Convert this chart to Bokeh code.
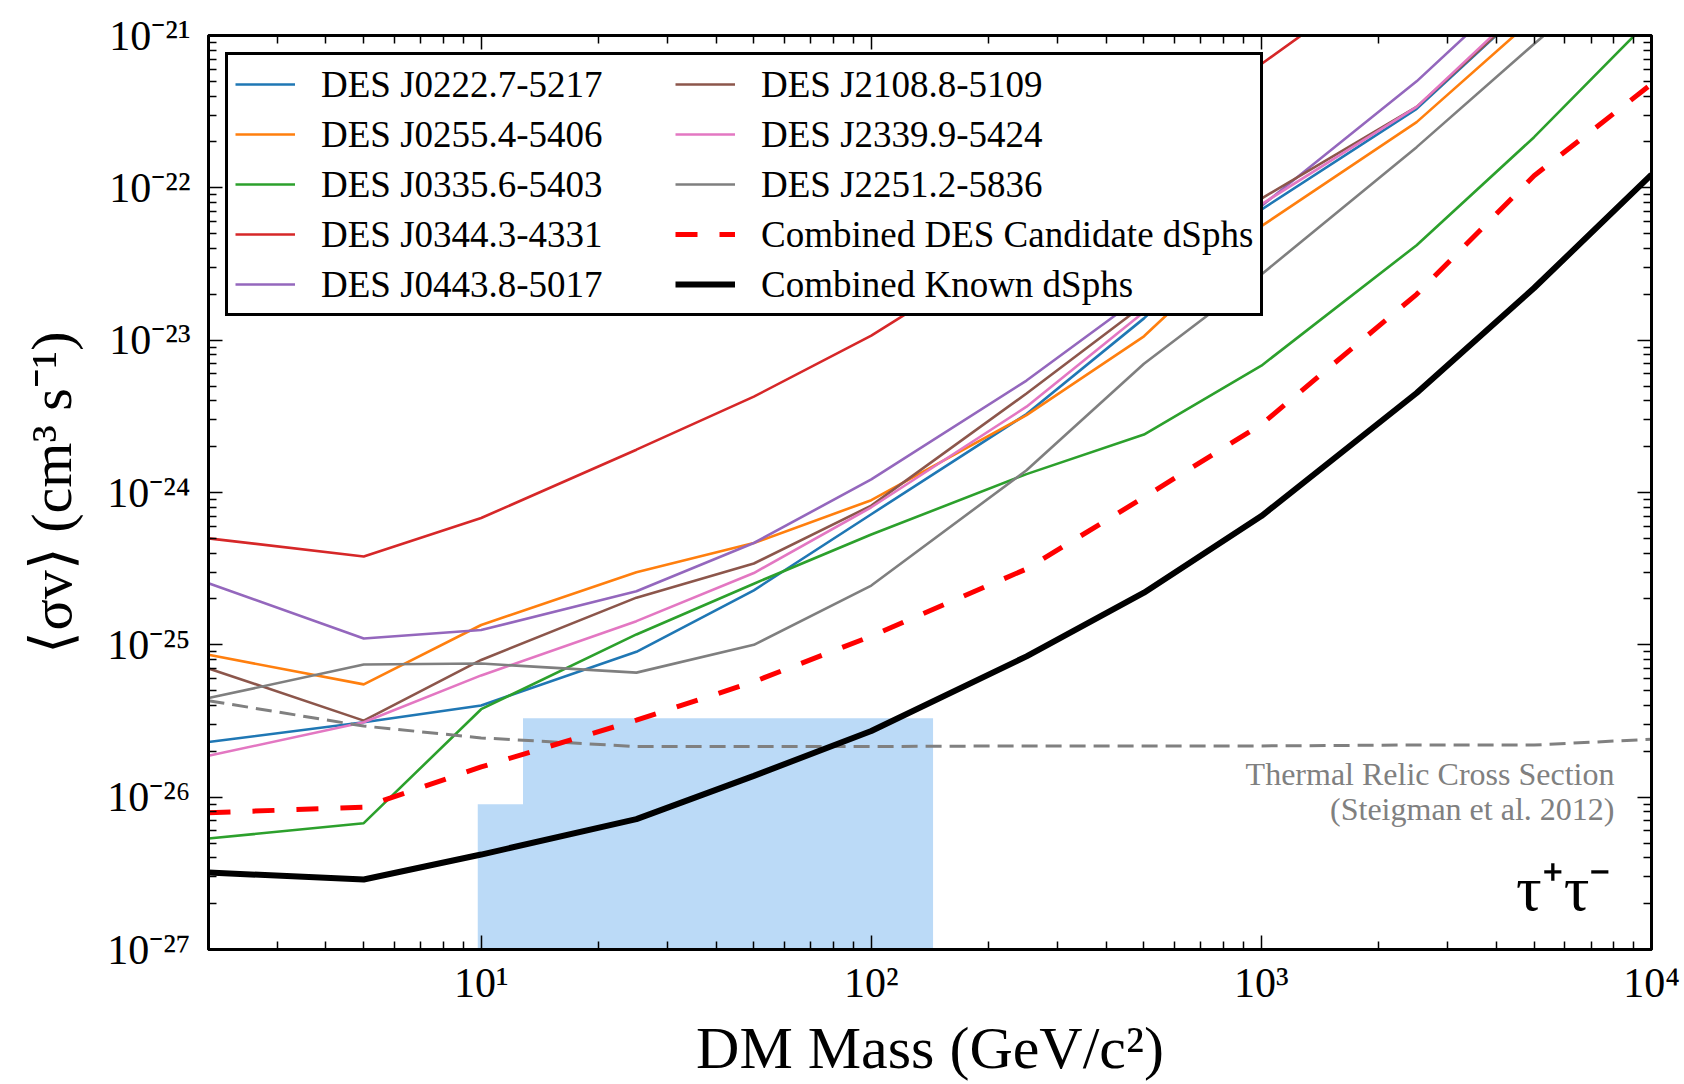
from bokeh.plotting import figure
from bokeh.models import (Legend, LegendItem, FixedTicker, LogAxis, Range1d, Label,
                          CustomJSTickFormatter)
from bokeh.embed import file_html
from bokeh.resources import INLINE

FONT = "Liberation Serif"

# ---------------- data ----------------
mass = [2, 5, 10, 25, 50, 100, 250, 500, 1000, 2500, 5000, 10000]

sv_j0222 = [2.3e-26, 3.1e-26, 4.0e-26, 9.0e-26, 2.28e-25, 7.2e-25, 3.27e-24, 1.39e-23, 7.2e-23, 3.3e-22, 1.7e-21, 8.0e-21]
sv_j0255 = [8.6e-26, 5.5e-26, 1.35e-25, 3.0e-25, 4.66e-25, 8.9e-25, 3.22e-24, 1.06e-23, 5.6e-23, 2.7e-22, 1.3e-21, 6.0e-21]
sv_j0335 = [5.35e-27, 6.75e-27, 3.78e-26, 1.17e-25, 2.52e-25, 5.3e-25, 1.32e-24, 2.4e-24, 6.8e-24, 4.2e-23, 2.15e-22, 1.3e-21]
sv_j0344 = [5.0e-25, 3.8e-25, 6.8e-25, 1.91e-24, 4.26e-24, 1.07e-23, 4.65e-23, 1.7e-22, 6.5e-22, 3.5e-21, 1.5e-20, 6.0e-20]
sv_j0443 = [2.54e-25, 1.1e-25, 1.25e-25, 2.25e-25, 4.66e-25, 1.22e-24, 5.43e-24, 2.0e-23, 7.6e-23, 5.0e-22, 2.6e-21, 1.2e-20]
sv_j2108 = [7.0e-26, 3.18e-26, 7.96e-26, 2.04e-25, 3.42e-25, 8.2e-25, 4.47e-24, 1.71e-23, 8.5e-23, 3.4e-22, 1.7e-21, 8.0e-21]
sv_j2339 = [1.87e-26, 3.1e-26, 6.3e-26, 1.43e-25, 2.96e-25, 8.0e-25, 3.66e-24, 1.53e-23, 7.8e-23, 3.4e-22, 1.8e-21, 8.0e-21]
sv_j2251 = [4.47e-26, 7.43e-26, 7.54e-26, 6.57e-26, 1.0e-25, 2.45e-25, 1.4e-24, 7.0e-24, 2.7e-23, 1.85e-22, 8.8e-22, 4.0e-21]
sv_comb_des = [7.9e-27, 8.6e-27, 1.58e-26, 3.2e-26, 5.73e-26, 1.14e-25, 3.15e-25, 9.3e-25, 2.8e-24, 2.0e-23, 1.2e-22, 4.8e-22]
sv_comb_known = [3.2e-27, 2.88e-27, 4.2e-27, 7.18e-27, 1.38e-26, 2.72e-26, 8.4e-26, 2.2e-25, 7.0e-25, 4.5e-24, 2.2e-23, 1.22e-22]
sv_thermal = [4.3e-26, 2.93e-26, 2.45e-26, 2.15e-26, 2.15e-26, 2.15e-26, 2.17e-26, 2.17e-26, 2.17e-26, 2.2e-26, 2.2e-26, 2.4e-26]

series_names = ["DES J0222.7-5217", "DES J0255.4-5406", "DES J0335.6-5403",
                "DES J0344.3-4331", "DES J0443.8-5017", "DES J2108.8-5109",
                "DES J2339.9-5424", "DES J2251.2-5836"]
series_values = [sv_j0222, sv_j0255, sv_j0335, sv_j0344, sv_j0443, sv_j2108, sv_j2339, sv_j2251]
series_colors = ["#1f77b4", "#ff7f0e", "#2ca02c", "#d62728", "#9467bd", "#8c564b", "#e377c2", "#7f7f7f"]

x_tick_exps = [1, 2, 3, 4]
x_tick_labels = ["10¹", "10²", "10³", "10⁴"]
y_tick_exps = [-27, -26, -25, -24, -23, -22, -21]
y_tick_labels = ["10⁻²⁷", "10⁻²⁶", "10⁻²⁵", "10⁻²⁴", "10⁻²³", "10⁻²²", "10⁻²¹"]

# ---------------- figure ----------------
p = figure(frame_width=1443, frame_height=914,
           x_axis_type="log", y_axis_type="log",
           x_range=Range1d(2, 1e4), y_range=Range1d(1e-27, 1e-21),
           output_backend="svg", toolbar_location=None,
           min_border_left=208, min_border_right=33,
           min_border_top=35, min_border_bottom=135,
           background_fill_color="white", border_fill_color="white")
p.xgrid.visible = False
p.ygrid.visible = False
p.outline_line_color = "black"
p.outline_line_width = 3

x_major = [10.0 ** e for e in x_tick_exps]
x_minor = [k * 10.0 ** n for n in range(0, 4) for k in range(2, 10)]
y_major = [10.0 ** e for e in y_tick_exps]
y_minor = [k * 10.0 ** n for n in range(-27, -21) for k in range(2, 10)]

xt = FixedTicker(ticks=x_major, minor_ticks=x_minor)
yt = FixedTicker(ticks=y_major, minor_ticks=y_minor)

fmt_code = """
const e = Math.round(Math.log10(tick));
const i = exps.indexOf(e);
return i >= 0 ? labels[i] : "";
"""
xfmt = CustomJSTickFormatter(args=dict(exps=x_tick_exps, labels=x_tick_labels), code=fmt_code)
yfmt = CustomJSTickFormatter(args=dict(exps=y_tick_exps, labels=y_tick_labels), code=fmt_code)
blank = CustomJSTickFormatter(code="return '';")


def style_axis(ax):
    ax.axis_line_width = 3
    ax.axis_line_color = "black"
    ax.major_tick_in = 14
    ax.major_tick_out = 0
    ax.minor_tick_in = 8
    ax.minor_tick_out = 0
    ax.major_tick_line_width = 1.5
    ax.minor_tick_line_width = 1.5
    ax.major_tick_line_color = "black"
    ax.minor_tick_line_color = "black"
    ax.major_label_text_font = FONT
    ax.major_label_text_color = "black"
    ax.axis_label_text_font = FONT
    ax.axis_label_text_font_style = "normal"
    ax.axis_label_text_color = "black"


xa = p.xaxis[0]
xa.ticker = xt
xa.formatter = xfmt
style_axis(xa)
xa.major_label_text_font_size = "42px"
xa.major_label_standoff = 10
xa.axis_label = "DM Mass (GeV/c²)"
xa.axis_label_text_font_size = "60px"
xa.axis_label_standoff = 6

ya = p.yaxis[0]
ya.ticker = yt
ya.formatter = yfmt
style_axis(ya)
ya.major_label_text_font_size = "42px"
ya.major_label_standoff = 18
ya.axis_label = "⟨σv⟩ (cm³ s⁻¹)"
ya.axis_label_text_font_size = "58px"
ya.axis_label_standoff = 20

top_ax = LogAxis(ticker=FixedTicker(ticks=x_major, minor_ticks=x_minor), formatter=blank)
style_axis(top_ax)
top_ax.major_label_text_font_size = "1px"
p.add_layout(top_ax, "above")
right_ax = LogAxis(ticker=FixedTicker(ticks=y_major, minor_ticks=y_minor), formatter=blank)
style_axis(right_ax)
right_ax.major_label_text_font_size = "1px"
p.add_layout(right_ax, "right")

# light-blue patch present in the reference picture
p.quad(left=[12.8], right=[144], bottom=[1e-27], top=[3.3e-26],
       fill_color="#bbdaf7", line_color=None)
p.quad(left=[9.8], right=[12.8], bottom=[1e-27], top=[9.0e-27],
       fill_color="#bbdaf7", line_color=None)

# ---------------- lines ----------------
renderers = []
for name, vals, col in zip(series_names, series_values, series_colors):
    r = p.line(mass, vals, line_color=col, line_width=2.6)
    renderers.append((name, r))

r_th = p.line(mass, sv_thermal, line_color="#808080", line_width=3, line_dash="16 8")
r_des = p.line(mass, sv_comb_des, line_color="#ff0000", line_width=5, line_dash="22 22")
r_known = p.line(mass, sv_comb_known, line_color="black", line_width=6)

items = [LegendItem(label=n, renderers=[r]) for n, r in renderers]
items.append(LegendItem(label="Combined DES Candidate dSphs", renderers=[r_des]))
items.append(LegendItem(label="Combined Known dSphs", renderers=[r_known]))

legend = Legend(items=items, ncols=2, location="top_left", margin=17,
                padding=7, spacing=6, glyph_width=60, glyph_height=44,
                label_height=44, label_width=348, label_standoff=26,
                label_text_font=FONT, label_text_font_size="37px",
                label_text_color="black",
                border_line_color="black", border_line_width=3, border_line_alpha=1.0,
                background_fill_color="white", background_fill_alpha=1.0)
p.add_layout(legend)

# ---------------- annotations ----------------
p.add_layout(Label(x=8035, y=1.43e-26, text="Thermal Relic Cross Section",
                   text_font=FONT, text_font_size="32px", text_color="#808080",
                   text_align="right", text_baseline="middle"))
p.add_layout(Label(x=8035, y=8.4e-27, text="(Steigman et al. 2012)",
                   text_font=FONT, text_font_size="32px", text_color="#808080",
                   text_align="right", text_baseline="middle"))
p.add_layout(Label(x=7890, y=2.5e-27, text="τ⁺τ⁻",
                   text_font=FONT, text_font_size="64px",
                   text_color="black", text_align="right", text_baseline="middle"))

open("out.html", "w").write(file_html(p, INLINE))
